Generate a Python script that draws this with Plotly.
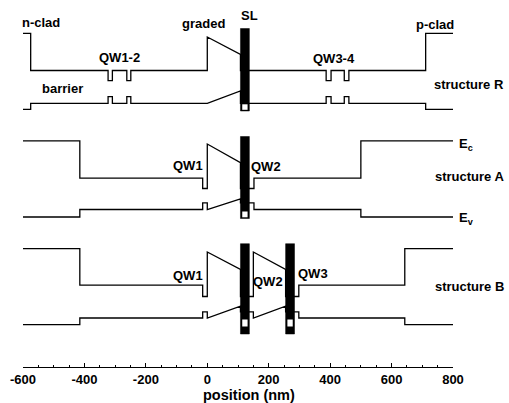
import plotly.graph_objects as go

# ---------------- data: band-edge profiles (position in nm, energy in a.u.) ----------------
# structure R
R_ec_x = [-600, -575, -575, -323, -323, -309, -309, -262, -262, -249, -249, 0, 0, 108, 108,
          137, 387, 387, 403, 403, 446, 446, 461, 461, 711, 711, 800]
R_ec_y = [333.7, 333.7, 296.5, 296.5, 286.3, 286.3, 296.5, 296.5, 286.3, 286.3, 296.5, 296.5, 330, 312.5, 296.5,
          296.5, 296.5, 286.3, 286.3, 296.5, 296.5, 286.3, 286.3, 296.5, 296.5, 333.7, 333.7]
R_ev_x = [-600, -575, -575, -323, -323, -309, -309, -262, -262, -249, -249, 0, 108, 108,
          137, 387, 387, 403, 403, 446, 446, 461, 461, 711, 711, 800]
R_ev_y = [257.7, 257.7, 263.7, 263.7, 270.3, 270.3, 263.7, 263.7, 270.3, 270.3, 263.7, 263.7, 276, 263.7,
          263.7, 263.7, 270.3, 270.3, 263.7, 263.7, 270.3, 270.3, 263.7, 263.7, 257.7, 257.7]

# structure A
A_ec_x = [-600, -415, -415, -15, -15, 0, 0, 108, 108, 137, 137, 152, 152, 500, 500, 800]
A_ec_y = [226.2, 226.2, 188.8, 188.8, 178.5, 178.5, 223, 204.3, 178.5, 178.5, 178.5, 178.5, 188.8, 188.8, 226.2, 226.2]
A_ev_x = [-600, -415, -415, -15, -15, 0, 0, 108, 108, 137, 137, 152, 152, 500, 500, 800]
A_ev_y = [150, 150, 157.5, 157.5, 164.2, 164.2, 157.5, 168.2, 164.2, 164.2, 164.2, 164.2, 157.5, 157.5, 150, 150]

# structure B
B_ec_x = [-600, -415, -415, -15, -15, 0, 0, 108, 108, 137, 137, 150, 150, 255, 255, 284, 284, 298, 298, 643, 643, 800]
B_ec_y = [118.3, 118.3, 81.8, 81.8, 70.5, 70.5, 115, 97.5, 70.5, 70.5, 70.5, 70.5, 115, 97.5, 70.5, 70.5, 70.5, 70.5, 81.8, 81.8, 118.3, 118.3]
B_ev_x = [-600, -415, -415, -15, -15, 0, 0, 108, 108, 137, 137, 150, 150, 255, 255, 284, 284, 298, 298, 643, 643, 800]
B_ev_y = [42.3, 42.3, 49, 49, 55.2, 55.2, 49, 60.8, 55.2, 55.2, 55.2, 55.2, 49, 60.8, 55.2, 55.2, 55.2, 55.2, 49, 49, 42.3, 42.3]

# superlattice bars: x-start, x-end, bottom, top, white-box bottom, white-box top
SL_x0 = [108, 108, 108, 255]
SL_x1 = [137, 137, 137, 284]
SL_bot = [256, 148.5, 33, 33]
SL_top = [338.5, 230.5, 123.3, 123.3]
SLw_bot = [257.2, 149.7, 40.5, 40.5]
SLw_top = [262.7, 155.5, 47.5, 47.5]

# labels
lab_text = ["n-clad", "graded", "SL", "QW1-2", "barrier", "QW3-4", "p-clad", "structure R",
            "QW1", "QW2", "structure A",
            "QW1", "QW2", "QW3", "structure B"]
lab_x = [-540, -12, 138, -287, -473, 411, 742, 853,
         -62, 192, 853,
         -62, 199, 344, 853]
lab_y = [345, 343.7, 352, 309.7, 278.7, 308.7, 343, 283,
         202, 201, 190.3,
         92, 85.3, 93.7, 80.3]
edge_text = ["E<sub>c</sub>", "E<sub>v</sub>"]
edge_x = [813, 813]
edge_y = [222.5, 148.5]

x_ticks = [-600, -400, -200, 0, 200, 400, 600, 800]
X_MIN, X_MAX = -600, 800
Y_MAX = 367
x_title = "position (nm)"
x_title_pos = 135  # nm, centre of the title


def xpaper(v):
    return (v - X_MIN) / (X_MAX - X_MIN)


# ---------------- figure ----------------
FONT = "Arial, Liberation Sans, sans-serif"
LW = 1.3
fig = go.Figure()
for xs, ys in [(R_ec_x, R_ec_y), (R_ev_x, R_ev_y), (A_ec_x, A_ec_y), (A_ev_x, A_ev_y),
               (B_ec_x, B_ec_y), (B_ev_x, B_ev_y)]:
    fig.add_trace(go.Scatter(x=xs, y=ys, mode="lines", line=dict(color="black", width=LW),
                             hoverinfo="skip", showlegend=False))

for x0, x1, b, t, wb, wt in zip(SL_x0, SL_x1, SL_bot, SL_top, SLw_bot, SLw_top):
    fig.add_trace(go.Scatter(x=[x0, x1, x1, x0, x0], y=[b, b, t, t, b], mode="lines",
                             fill="toself", fillcolor="black", line=dict(color="black", width=0.5),
                             hoverinfo="skip", showlegend=False))
    inset = (x1 - x0) * 0.2
    fig.add_trace(go.Scatter(x=[x0 + inset, x1 - inset, x1 - inset, x0 + inset, x0 + inset],
                             y=[wb, wb, wt, wt, wb], mode="lines",
                             fill="toself", fillcolor="white", line=dict(color="white", width=0),
                             hoverinfo="skip", showlegend=False))

for t, x, y in zip(lab_text, lab_x, lab_y):
    fig.add_annotation(x=xpaper(x), xref="paper", y=y, yref="y", text=t, showarrow=False,
                       xanchor="center", yanchor="middle",
                       font=dict(family=FONT, size=13, color="black", weight="bold"))
for t, x, y in zip(edge_text, edge_x, edge_y):
    fig.add_annotation(x=xpaper(x), xref="paper", y=y, yref="y", text=t, showarrow=False,
                       xanchor="left", yanchor="middle",
                       font=dict(family=FONT, size=13, color="black", weight="bold"))

# axis title as an annotation (it is centred slightly right of the plot centre)
fig.add_annotation(x=xpaper(x_title_pos), xref="paper", y=-28 / Y_MAX, yref="paper",
                   text=x_title, showarrow=False, xanchor="center", yanchor="middle",
                   font=dict(family=FONT, size=14.5, color="black", weight="bold"))

fig.update_xaxes(range=[X_MIN, X_MAX], tickvals=x_ticks, ticktext=[str(v) for v in x_ticks],
                 showline=True, linecolor="black", linewidth=LW, ticks="inside", ticklen=4,
                 tickwidth=LW, tickcolor="black", showgrid=False, zeroline=False,
                 minor=dict(dtick=50, ticks="inside", ticklen=2, tickwidth=1, tickcolor="black", showgrid=False),
                 tickfont=dict(family=FONT, size=13, color="black", weight="bold"))
fig.update_yaxes(range=[0, Y_MAX], visible=False)
fig.update_layout(width=509, height=403, margin=dict(l=23, r=56, t=0, b=36),
                  plot_bgcolor="white", paper_bgcolor="white")
fig.write_html("out.html")
